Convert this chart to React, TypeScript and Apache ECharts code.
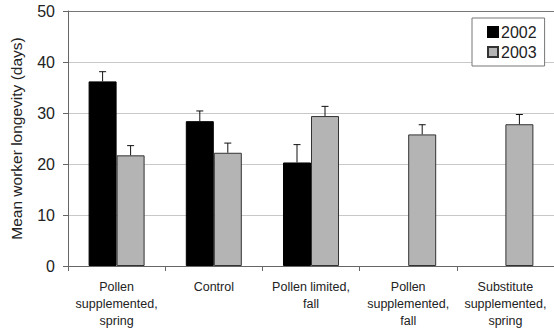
import React, { useEffect, useRef } from "react";
import * as echarts from "echarts";

const categories = [
  "Pollen\nsupplemented,\nspring",
  "Control",
  "Pollen limited,\nfall",
  "Pollen\nsupplemented,\nfall",
  "Substitute\nsupplemented,\nspring",
];
const values2002: (number | null)[] = [36.2, 28.4, 20.3, null, null];
const errors2002: (number | null)[] = [1.9, 2.0, 3.5, null, null];
const values2003: number[] = [21.7, 22.2, 29.4, 25.8, 27.8];
const errors2003: number[] = [1.9, 1.9, 1.9, 1.9, 1.9];
const yTicks = [0, 10, 20, 30, 40, 50];

const FONT = "'Liberation Sans', Arial, sans-serif";

export default function App() {
  const ref = useRef<HTMLDivElement>(null);
  useEffect(() => {
    document.body.style.margin = "0";
    const chart = echarts.init(ref.current!, null, { renderer: "svg" });
    const errData: any[] = [];
    values2002.forEach((v, i) => {
      if (v != null && errors2002[i] != null) errData.push([i, v, v + (errors2002[i] as number), -1]);
    });
    values2003.forEach((v, i) => {
      errData.push([i, v, v + errors2003[i], 1]);
    });
    const barW = 28;
    chart.setOption({
      animation: false,
      grid: { left: 67, top: 11, width: 493, height: 257 },
      legend: {
        orient: "vertical",
        left: 472,
        top: 18,
        padding: [6, 8, 6, 15],
        itemWidth: 10,
        itemHeight: 10,
        itemGap: 4,
        borderColor: "#777",
        borderWidth: 1,
        backgroundColor: "#fff",
        textStyle: { fontFamily: FONT, fontSize: 16, color: "#222", padding: [0, 0, 0, -2] },
        data: [
          { name: "2002", icon: "rect" },
          { name: "2003", icon: "rect" },
        ],
      },
      xAxis: {
        type: "category",
        data: categories,
        axisLine: { lineStyle: { color: "#666", width: 1 } },
        axisTick: { show: true, length: 5, lineStyle: { color: "#666" } },
        axisLabel: {
          interval: 0,
          margin: 12,
          fontFamily: FONT,
          fontSize: 12.5,
          lineHeight: 17,
          color: "#222",
        },
      },
      yAxis: {
        type: "value",
        min: 0,
        max: 50,
        interval: 10,
        name: "Mean worker longevity (days)",
        nameLocation: "middle",
        nameGap: 44,
        nameTextStyle: { fontFamily: FONT, fontSize: 15.5, color: "#222" },
        axisLine: { show: true, lineStyle: { color: "#666", width: 1 } },
        axisTick: { show: true, length: 5, lineStyle: { color: "#666" } },
        axisLabel: {
          margin: 13,
          fontFamily: FONT,
          fontSize: 16,
          color: "#222",
          formatter: (v: number) => (yTicks.includes(v) ? String(v) : ""),
        },
        splitLine: {
          show: true,
          lineStyle: {
            color: ["#c8c8c8", "#c8c8c8", "#c8c8c8", "#c8c8c8", "#c8c8c8", "#777"],
            width: 1,
          },
        },
      },
      series: [
        {
          name: "2002",
          type: "bar",
          data: values2002.map((v) => (v == null ? "-" : v)),
          barWidth: barW,
          barGap: "0%",
          itemStyle: { color: "#000", borderColor: "#000", borderWidth: 1 },
        },
        {
          name: "2003",
          type: "bar",
          data: values2003,
          barWidth: barW,
          barGap: "0%",
          itemStyle: { color: "#b4b4b4", borderColor: "#333", borderWidth: 1 },
        },
        {
          type: "custom",
          data: errData,
          z: 10,
          renderItem: (params: any, api: any) => {
            const idx = api.value(0);
            const base = api.coord([idx, api.value(1)]);
            const top = api.coord([idx, api.value(2)]);
            const x = base[0] + api.value(3) * (barW / 2);
            const style = { stroke: "#111", lineWidth: 1 };
            return {
              type: "group",
              children: [
                { type: "line", shape: { x1: x, y1: base[1], x2: x, y2: top[1] }, style },
                { type: "line", shape: { x1: x - 3.5, y1: top[1], x2: x + 3.5, y2: top[1] }, style },
              ],
            };
          },
        },
      ],
    });
    return () => chart.dispose();
  }, []);
  return <div ref={ref} style={{ width: 554, height: 329 }} />;
}
